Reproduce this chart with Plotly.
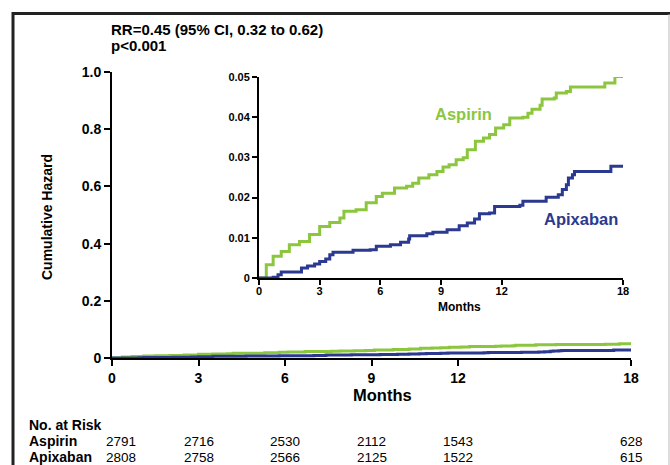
import plotly.graph_objects as go

# ---- data ----
aspirin_t = [0, 0.36, 0.7, 1.1, 1.5, 2.0, 2.5, 3.0, 3.5, 4.0, 4.2, 4.8, 5.3, 5.8, 6.1, 6.7, 7.3, 7.6, 7.9,
             8.4, 8.8, 9.1, 9.4, 9.75, 10.1, 10.3, 10.7, 11.1, 11.4, 11.7, 12.1, 12.4, 13.05, 13.3, 13.5,
             13.9, 14.0, 14.6, 14.7, 15.2, 15.4, 17.1, 17.6, 18]
aspirin_h = [0, 0.0033, 0.0054, 0.0066, 0.0083, 0.0091, 0.0108, 0.0128, 0.0138, 0.0149, 0.0166, 0.0170,
             0.0187, 0.0203, 0.0211, 0.0224, 0.0228, 0.0236, 0.0249, 0.0257, 0.0265, 0.0276, 0.0282,
             0.0294, 0.0299, 0.0319, 0.0340, 0.0348, 0.0357, 0.0373, 0.0381, 0.0398, 0.0400, 0.0410,
             0.0420, 0.0430, 0.0445, 0.0448, 0.0460, 0.0464, 0.0475, 0.0485, 0.0501, 0.0501]

apixaban_t = [0, 0.7, 0.94, 1.1, 2.1, 2.4, 2.75, 3.0, 3.3, 3.5, 3.66, 4.65, 5.5, 5.8, 6.5, 7.0, 7.4, 7.45,
              8.3, 8.6, 9.3, 9.9, 10.3, 10.66, 10.9, 11.4, 11.65, 12.9, 13.05, 14.2, 14.8, 15.0, 15.2,
              15.3, 15.5, 15.6, 17.4, 18]
apixaban_h = [0, 0.0002, 0.0008, 0.0015, 0.0025, 0.0030, 0.0035, 0.0041, 0.0047, 0.0058, 0.0064, 0.0069,
              0.0070, 0.0079, 0.0083, 0.0089, 0.0097, 0.0105, 0.0110, 0.0114, 0.0120, 0.0130, 0.0137,
              0.0147, 0.0160, 0.0162, 0.0178, 0.0181, 0.0191, 0.0201, 0.0207, 0.0220, 0.0232, 0.0249,
              0.0257, 0.0265, 0.0278, 0.0278]

risk_months = [0, 3, 6, 9, 12, 18]
risk_aspirin = [2791, 2716, 2530, 2112, 1543, 628]
risk_apixaban = [2808, 2758, 2566, 2125, 1522, 615]

main_xticks = [0, 3, 6, 9, 12, 18]
main_yticks = [0, 0.2, 0.4, 0.6, 0.8, 1.0]
main_ylabels = ["0", "0.2", "0.4", "0.6", "0.8", "1.0"]
inset_yticks = [0, 0.01, 0.02, 0.03, 0.04, 0.05]
inset_ylabels = ["0", "0.01", "0.02", "0.03", "0.04", "0.05"]

GREEN = "#8cc63f"
BLUE = "#2b3990"
FONT = "Liberation Sans, Arial, sans-serif"
W, H = 670, 465

def px(x):
    return x / W

def py(y):
    return 1 - y / H

fig = go.Figure()
# main plot
fig.add_trace(go.Scatter(x=aspirin_t, y=aspirin_h, mode="lines", line=dict(color=GREEN, width=3, shape="hv"),
                         xaxis="x", yaxis="y", showlegend=False))
fig.add_trace(go.Scatter(x=apixaban_t, y=apixaban_h, mode="lines", line=dict(color=BLUE, width=3, shape="hv"),
                         xaxis="x", yaxis="y", showlegend=False))
# inset
fig.add_trace(go.Scatter(x=aspirin_t, y=aspirin_h, mode="lines", line=dict(color=GREEN, width=3, shape="hv"),
                         xaxis="x2", yaxis="y2", showlegend=False))
fig.add_trace(go.Scatter(x=apixaban_t, y=apixaban_h, mode="lines", line=dict(color=BLUE, width=3, shape="hv"),
                         xaxis="x2", yaxis="y2", showlegend=False))

axis_common = dict(showgrid=False, zeroline=False, showline=True, linecolor="black", ticks="outside",
                   tickcolor="black", fixedrange=True, automargin=False)

fig.update_layout(
    template="none",
    width=W, height=H,
    margin=dict(l=0, r=0, t=0, b=0, pad=0, autoexpand=False),
    paper_bgcolor="white", plot_bgcolor="rgba(0,0,0,0)",
    font=dict(family=FONT, color="black"),
    xaxis=dict(domain=[px(112), px(631)], range=[0, 18], tickvals=main_xticks, anchor="y",
               linewidth=2, ticklen=6, tickwidth=2,
               tickfont=dict(size=14, weight="bold", family=FONT), **axis_common),
    yaxis=dict(domain=[py(358), py(72)], range=[0, 1], tickvals=main_yticks, ticktext=main_ylabels, anchor="x",
               linewidth=2, ticklen=6, tickwidth=2,
               tickfont=dict(size=14, weight="bold", family=FONT), **axis_common),
    xaxis2=dict(domain=[px(259), px(623)], range=[0, 18], tickvals=main_xticks, anchor="y2",
                linewidth=2, ticklen=5, tickwidth=2, ticklabelstandoff=-3,
                tickfont=dict(size=11, weight="bold", family=FONT), **axis_common),
    yaxis2=dict(domain=[py(278), py(77)], range=[0, 0.05], tickvals=inset_yticks, ticktext=inset_ylabels,
                anchor="x2", linewidth=2, ticklen=5, tickwidth=2,
                tickfont=dict(size=11, weight="bold", family=FONT), **axis_common),
)

shapes = [
    dict(type="line", xref="paper", yref="paper", x0=px(13), x1=1.0, y0=py(13.5), y1=py(13.5),
         line=dict(color="#222222", width=3)),
    dict(type="line", xref="paper", yref="paper", x0=px(13), x1=px(13), y0=py(12), y1=0,
         line=dict(color="#222222", width=3)),
    dict(type="line", xref="paper", yref="paper", x0=px(669), x1=px(669), y0=py(14), y1=0,
         line=dict(color="#bbbbbb", width=1)),
]
fig.update_layout(shapes=shapes)

ann = []
def txt(x, y, text, size=12, bold=True, color="black", xanchor="left", angle=0, xref="paper", xshift=0):
    ann.append(dict(x=x, y=y, xref=xref, yref="paper", text=text, showarrow=False, xanchor=xanchor,
                    yanchor="middle", textangle=angle, xshift=xshift,
                    font=dict(size=size, color=color, family=FONT, weight="bold" if bold else "normal")))

txt(px(109), py(30), "RR=0.45 (95% CI, 0.32 to 0.62)", size=15)
txt(px(109), py(46), "p<0.001", size=15)
txt(px(47), py(217), "Cumulative Hazard", size=14, xanchor="center", angle=-90)
txt(px(382), py(395), "Months", size=16.5, xanchor="center")
txt(px(459), py(307), "Months", size=12, xanchor="center")
txt(px(463.5), py(114), "Aspirin", size=16.5, color=GREEN, xanchor="center")
txt(px(580.5), py(219), "Apixaban", size=16.5, color=BLUE, xanchor="center")
txt(px(27), py(425), "No. at Risk", size=14)
txt(px(27), py(441), "Aspirin", size=14)
txt(px(27), py(457), "Apixaban", size=14)
for i, (m, a, b) in enumerate(zip(risk_months, risk_aspirin, risk_apixaban)):
    shift = 9 if i == 0 else 0
    txt(m, py(441), str(a), size=13.5, bold=False, xanchor="center", xref="x", xshift=shift)
    txt(m, py(457), str(b), size=13.5, bold=False, xanchor="center", xref="x", xshift=shift)

fig.update_layout(annotations=ann)
fig.write_html("out.html", config={"displayModeBar": False},
               post_script="document.body.style.margin='0';")
